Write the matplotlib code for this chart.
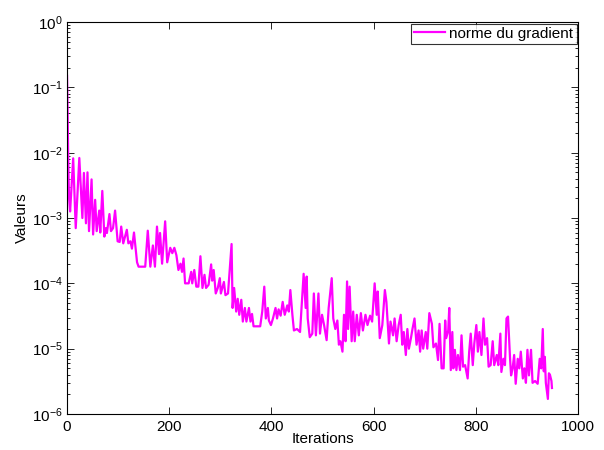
import matplotlib
matplotlib.use("Agg")
import matplotlib.pyplot as plt
from matplotlib.ticker import LogLocator, FixedLocator, NullFormatter

plt.rcParams['font.family'] = ['Liberation Sans', 'DejaVu Sans']
plt.rcParams['mathtext.default'] = 'regular'
plt.rcParams['mathtext.fontset'] = 'custom'
plt.rcParams['mathtext.rm'] = 'Liberation Sans'

series_label = "norme du gradient"
x_label = "Iterations"
y_label = "Valeurs"
x_ticks = [0, 200, 400, 600, 800, 1000]

iterations = [
    0, 1, 2, 3, 4, 6, 12, 17, 24, 30, 33, 37, 40, 43, 48, 51, 55, 58, 63, 65,
    69, 73, 76, 78, 83, 86, 90, 94, 99, 103, 106, 110, 117, 120, 124, 127, 131,
    137, 140, 153, 158, 163, 168, 172, 176, 180, 182, 186, 192, 196, 202, 206,
    210, 214, 218, 222, 225, 228, 231, 238, 243, 245, 249, 253, 257, 261, 265,
    269, 272, 277, 282, 284, 287, 291, 295, 299, 301, 307, 310, 315, 322, 324,
    327, 331, 334, 337, 341, 344, 348, 351, 356, 359, 362, 365, 372, 378, 382,
    386, 389, 393, 395, 399, 403, 408, 411, 414, 418, 422, 426, 431, 434, 437,
    441, 444, 450, 456, 463, 467, 469, 471, 475, 480, 483, 487, 492, 495, 499,
    503, 508, 512, 518, 521, 525, 529, 532, 535, 539, 542, 545, 548, 550, 553,
    557, 560, 563, 567, 571, 575, 579, 584, 588, 593, 597, 602, 606, 608, 612,
    617, 622, 625, 630, 633, 638, 641, 645, 649, 653, 656, 659, 663, 666, 669,
    673, 676, 680, 684, 688, 691, 694, 697, 702, 705, 709, 714, 717, 722, 726,
    729, 733, 737, 740, 742, 746, 748, 751, 754, 756, 759, 762, 765, 769, 772,
    775, 779, 784, 787, 790, 794, 797, 801, 804, 807, 811, 815, 818, 822, 825,
    829, 833, 836, 841, 844, 848, 850, 854, 857, 860, 863, 867, 869, 872, 875,
    878, 882, 885, 888, 892, 895, 898, 901, 904, 908, 911, 916, 921, 925, 928,
    931, 933, 935, 937, 941, 943, 945, 948, 949,
]

gradient_norm = [
    0.15, 0.05, 0.012, 0.004, 2e-3, 1.26e-3, 8.2e-3, 7e-4, 8.3e-3, 1e-3, 4.9e-3,
    8.3e-4, 5e-3, 6.3e-4, 3.9e-3, 5.6e-4, 1.9e-3, 6.3e-4, 1.3e-3, 6e-4,
    2.6e-3, 5.2e-4, 7e-4, 5.9e-4, 1.15e-3, 6.3e-4, 7e-4, 1.3e-3, 4.4e-4, 4.3e-4,
    7.4e-4, 4.1e-4, 6.6e-4, 4.1e-4, 4.4e-4, 3.4e-4, 6e-4,
    2.1e-4, 1.8e-4, 1.8e-4, 6.4e-4, 1.8e-4, 3.8e-4, 1.8e-4, 7.4e-4, 2.8e-4,
    5.9e-4, 2e-4, 8.9e-4, 2.1e-4, 3.5e-4, 2.9e-4,
    3.5e-4, 2.7e-4, 1.6e-4, 2e-4, 1.5e-4, 2.4e-4, 1e-4, 1e-4, 1.5e-4, 1e-4,
    1.6e-4, 8.9e-5, 8.9e-5, 2.6e-4, 8.5e-5,
    1.35e-4, 8.5e-5, 9.5e-5, 1.95e-4, 1.1e-4, 1.6e-4, 7e-5, 8.5e-5, 1.2e-4,
    7e-5, 1.05e-4, 6.6e-5, 7e-5, 4e-4, 4.2e-5,
    8.5e-5, 3.7e-5, 5.8e-5, 3.3e-5, 5.6e-5, 2.6e-5, 4.2e-5, 2.6e-5, 4.2e-5,
    2.6e-5, 3.4e-5, 2.2e-5, 2.2e-5, 2.2e-5, 3.7e-5,
    8.9e-5, 2.9e-5, 4.2e-5, 2.7e-5, 2.3e-5, 2.9e-5, 4.2e-5, 2.9e-5, 4e-5,
    3.2e-5, 5.2e-5, 3.3e-5, 4.6e-5, 3.7e-5, 7.9e-5,
    3.3e-5, 1.9e-5, 2e-5, 1.8e-5, 1.4e-4, 4.2e-5, 1.27e-4, 2.9e-5, 1.5e-5,
    1.7e-5, 7e-5, 1.6e-5, 7e-5, 1.7e-5, 3.3e-5,
    2.3e-5, 1.35e-5, 4.2e-5, 1.2e-4, 2.9e-5, 2e-5, 2.7e-5, 1.15e-5, 1.3e-5,
    9e-6, 3.3e-5, 1.3e-5, 1.07e-4, 2e-5, 8.9e-5,
    1.3e-5, 3.7e-5, 1.3e-5, 3.3e-5, 1.6e-5, 3.5e-5, 1.9e-5, 3.3e-5, 2.3e-5,
    3.2e-5, 2.6e-5, 1e-4, 3.3e-5, 7.5e-5, 1.45e-5,
    2.3e-5, 7.9e-5, 5.2e-5, 1.2e-5, 2.6e-5, 1.6e-5, 2.9e-5, 1.3e-5, 2.3e-5,
    3.3e-5, 1.15e-5, 1.8e-5, 8e-6, 2e-5, 1e-5,
    1.45e-5, 2e-5, 2.9e-5, 1.15e-5, 1.9e-5, 9e-6, 1.9e-5, 1e-5, 1.8e-5, 1e-5,
    3.5e-5, 2.4e-5, 1.05e-5, 1.2e-5, 6.7e-6,
    2.4e-5, 5e-6, 5e-6, 2.7e-5, 1.45e-5, 1.9e-5, 4.2e-5, 4.7e-6, 1.8e-5, 5e-6,
    9.6e-6, 4.7e-6, 8e-6, 4.7e-6, 1.6e-5,
    5.3e-6, 5.6e-6, 3.5e-6, 9e-6, 1.7e-5, 5.6e-6, 1.2e-5, 2.3e-5, 9e-6, 1.8e-5,
    8e-6, 2.9e-5, 1.15e-5, 1.45e-5, 5.3e-6,
    5.6e-6, 1.3e-5, 5.6e-6, 8e-6, 5.6e-6, 1.7e-5, 4.4e-6, 7e-6, 5.6e-6, 2.9e-5,
    3.1e-5, 7e-6, 3.9e-6, 5e-6, 8e-6,
    2.9e-6, 7e-6, 5e-6, 9e-6, 3.5e-6, 5e-6, 3e-6, 9.6e-6, 3.9e-6, 9.6e-6, 3e-6,
    3.2e-6, 2.9e-6, 7e-6, 5e-6,
    2e-5, 4.5e-6, 7.5e-6, 3e-6, 1.7e-6, 4.2e-6, 4e-6, 3.2e-6, 2.5e-6,
]

fig = plt.figure(figsize=(6.04, 4.5), dpi=100)
ax = fig.add_axes([0.111, 0.080, 0.846, 0.871])

ax.semilogy(iterations, gradient_norm, color='#ff00ff', linewidth=1.6,
            label=series_label)

ax.set_xlim(0, 1000)
ax.set_ylim(1e-6, 1e0)
ax.xaxis.set_major_locator(FixedLocator(x_ticks))
ax.yaxis.set_major_locator(LogLocator(base=10, numticks=10))
ax.yaxis.set_minor_locator(LogLocator(base=10, subs=range(2, 10), numticks=20))
ax.yaxis.set_minor_formatter(NullFormatter())

ax.tick_params(which='both', direction='in', top=True, right=True,
               labelsize=11, width=0.6, colors='black')
ax.tick_params(which='major', length=5)
ax.tick_params(which='minor', length=2.5)
ax.tick_params(axis='x', pad=4)
ax.tick_params(axis='y', pad=3)
for sp in ax.spines.values():
    sp.set_linewidth(0.8)

ax.set_xlabel(x_label, fontsize=11, labelpad=-1)
ax.set_ylabel(y_label, fontsize=11, labelpad=2)

leg = ax.legend(loc='upper right', fontsize=11, frameon=True, fancybox=False,
                borderaxespad=0.1, handlelength=2.0, handletextpad=0.3,
                borderpad=0.2)
leg.get_frame().set_edgecolor('black')
leg.get_frame().set_linewidth(0.8)

fig.savefig('out.png', dpi=100)
